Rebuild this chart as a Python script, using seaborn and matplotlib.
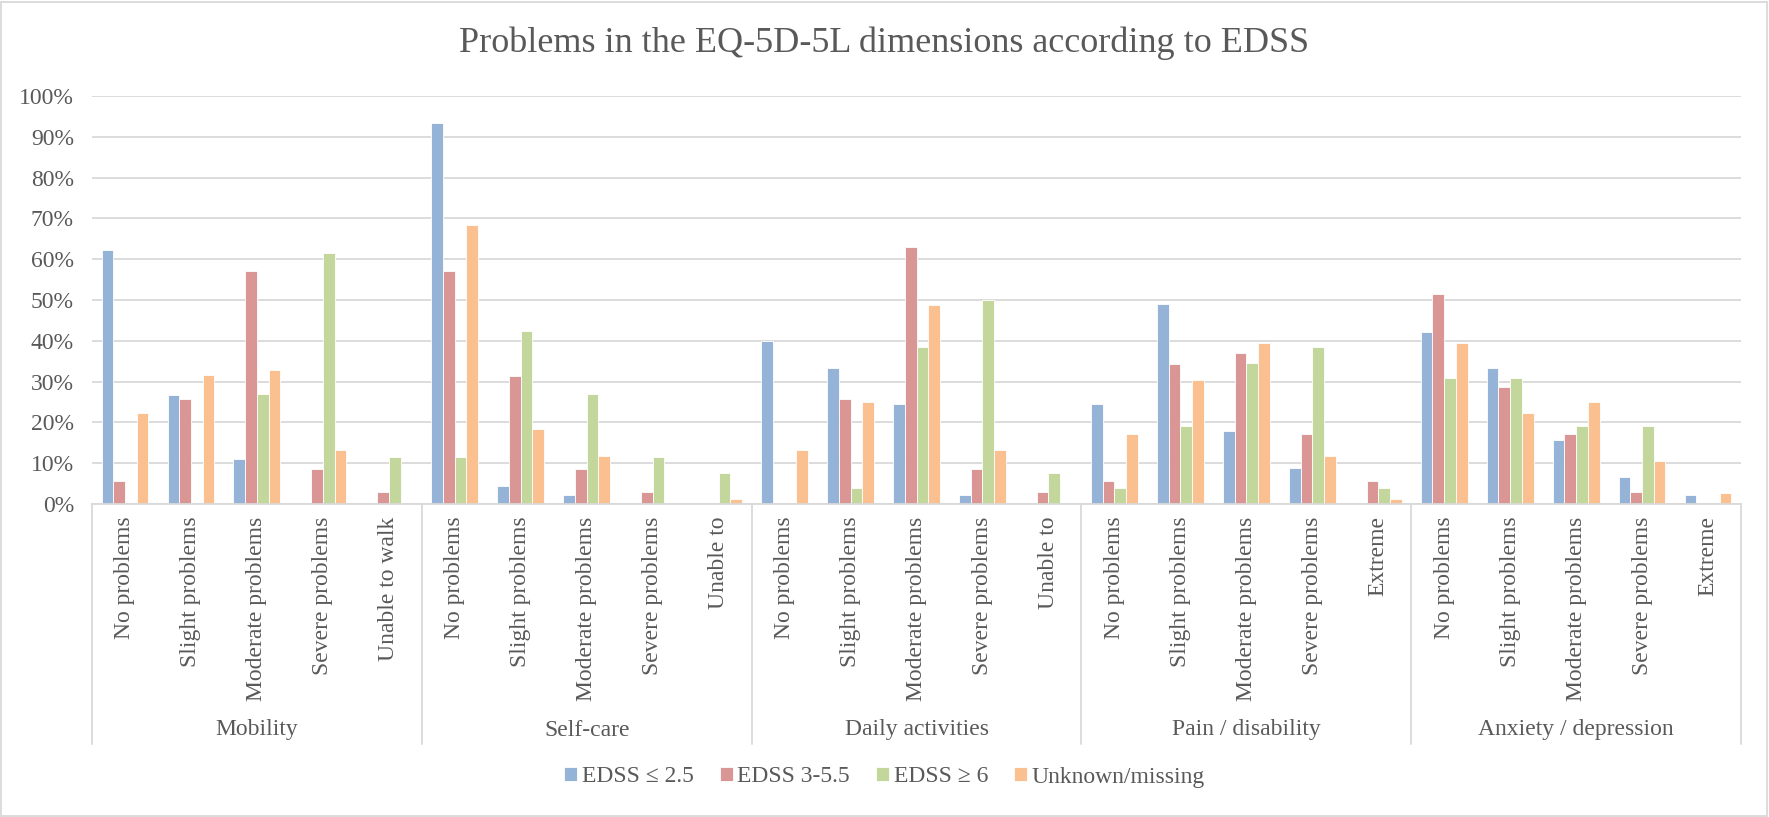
import matplotlib
matplotlib.use("Agg")
import matplotlib.pyplot as plt
from matplotlib.patches import Rectangle
from matplotlib.lines import Line2D
import seaborn as sns
import pandas as pd

# ---- data -------------------------------------------------------------
dimensions = ["Mobility", "Self-care", "Daily activities",
              "Pain / disability", "Anxiety / depression"]
levels = [
    ["No problems", "Slight problems", "Moderate problems", "Severe problems", "Unable to walk"],
    ["No problems", "Slight problems", "Moderate problems", "Severe problems", "Unable to"],
    ["No problems", "Slight problems", "Moderate problems", "Severe problems", "Unable to"],
    ["No problems", "Slight problems", "Moderate problems", "Severe problems", "Extreme"],
    ["No problems", "Slight problems", "Moderate problems", "Severe problems", "Extreme"],
]
series = ["EDSS \u2264 2.5", "EDSS 3-5.5", "EDSS \u2265 6", "Unknown/missing"]

# percentages, 5 levels per dimension, dimensions in the order above
edss_low = [62.2, 26.7, 11.1, 0.0, 0.0,
            93.3, 4.4, 2.2, 0.0, 0.0,
            40.0, 33.3, 24.4, 2.2, 0.0,
            24.4, 48.9, 17.8, 8.9, 0.0,
            42.2, 33.3, 15.6, 6.7, 2.2]
edss_mid = [5.7, 25.7, 57.1, 8.6, 2.9,
            57.1, 31.4, 8.6, 2.9, 0.0,
            0.0, 25.7, 62.9, 8.6, 2.9,
            5.7, 34.3, 37.1, 17.1, 5.7,
            51.4, 28.6, 17.1, 2.9, 0.0]
edss_high = [0.0, 0.0, 26.9, 61.5, 11.5,
             11.5, 42.3, 26.9, 11.5, 7.7,
             0.0, 3.8, 38.5, 50.0, 7.7,
             3.8, 19.2, 34.6, 38.5, 3.8,
             30.8, 30.8, 19.2, 19.2, 0.0]
unknown = [22.4, 31.6, 32.9, 13.2, 0.0,
           68.4, 18.4, 11.8, 0.0, 1.3,
           13.2, 25.0, 48.7, 13.2, 0.0,
           17.1, 30.3, 39.5, 11.8, 1.3,
           39.5, 22.4, 25.0, 10.5, 2.6]
y_ticks = [0, 10, 20, 30, 40, 50, 60, 70, 80, 90, 100]

colors = ["#95B3D7", "#D99694", "#C3D69B", "#FAC090"]
text_color = "#595959"
line_color = "#D9D9D9"

# ---- long-form table ----------------------------------------------------
keys, level_labels = [], []
for d, lv in zip(dimensions, levels):
    for name in lv:
        keys.append(f"{d}|{name}")
        level_labels.append(name)

rows = []
for s, vals in zip(series, [edss_low, edss_mid, edss_high, unknown]):
    for k, v in zip(keys, vals):
        rows.append({"key": k, "group": s, "pct": v})
df = pd.DataFrame(rows)

# ---- style ---------------------------------------------------------------
sns.set_style("white")
plt.rcParams["font.family"] = ["Liberation Serif", "DejaVu Serif"]
plt.rcParams["text.color"] = text_color

fig = plt.figure(figsize=(17.69, 8.17), dpi=100)
W, H = 1769, 817
ax = fig.add_axes([92 / W, 1 - 504 / H, (1741 - 92) / W, (504 - 96) / H])

sns.barplot(data=df, x="key", y="pct", hue="group", order=keys,
            hue_order=series, palette=colors, saturation=1, width=0.71,
            edgecolor="white", linewidth=0.6, errorbar=None, ax=ax)

ax.set_xlim(-0.5, len(keys) - 0.5)
ax.set_ylim(0, 100)
ax.set_yticks(y_ticks)
ax.set_yticklabels([f"{t}%" for t in y_ticks])
ax.set_xticks(range(len(keys)))
ax.set_xticklabels(level_labels, rotation=90, va="top", ha="center")
ax.set_xlabel("")
ax.set_ylabel("")

ax.tick_params(axis="y", length=0, pad=13, labelsize=17, labelcolor=text_color)
ax.tick_params(axis="x", length=0, pad=9, labelsize=17, labelcolor=text_color)

ax.yaxis.grid(True, color=line_color, linewidth=1.3)
ax.set_axisbelow(True)
for side in ["left", "right", "top"]:
    ax.spines[side].set_visible(False)
ax.spines["bottom"].set_color(line_color)
ax.spines["bottom"].set_linewidth(1.3)

# group separators and dimension labels below the axis
trans = ax.get_xaxis_transform()
sep_bottom = -(744 - 504) / (504 - 96)
label_y = -(730 - 504) / (504 - 96)
n = len(levels[0])
for i, d in enumerate(dimensions):
    x0 = i * n - 0.5
    ax.add_line(Line2D([x0, x0], [0, sep_bottom], transform=trans,
                       color=line_color, linewidth=1.3, clip_on=False))
    ax.text(i * n + (n - 1) / 2, label_y, d, transform=trans,
            ha="center", va="center", fontsize=17, color=text_color)
x_end = len(keys) - 0.5
ax.add_line(Line2D([x_end, x_end], [0, sep_bottom], transform=trans,
                   color=line_color, linewidth=1.3, clip_on=False))

# legend
handles, labels = ax.get_legend_handles_labels()
if ax.get_legend() is not None:
    ax.get_legend().remove()
fig.legend(handles, labels, loc="center", bbox_to_anchor=(0.5, 1 - 777 / H),
           ncol=4, frameon=False, fontsize=17, handlelength=0.55,
           handleheight=0.55, handletextpad=0.2, columnspacing=1.1,
           labelcolor=text_color)

fig.suptitle("Problems in the EQ-5D-5L dimensions according to EDSS",
             x=0.5, y=1 - 43 / H, va="center", fontsize=26, color=text_color)

# chart frame
fig.patches.append(Rectangle((1 / W, 1 / H), 1 - 3 / W, 1 - 3 / H,
                             transform=fig.transFigure, fill=False,
                             edgecolor=line_color, linewidth=1.3))

fig.savefig("out.png", dpi=100, facecolor="white")
